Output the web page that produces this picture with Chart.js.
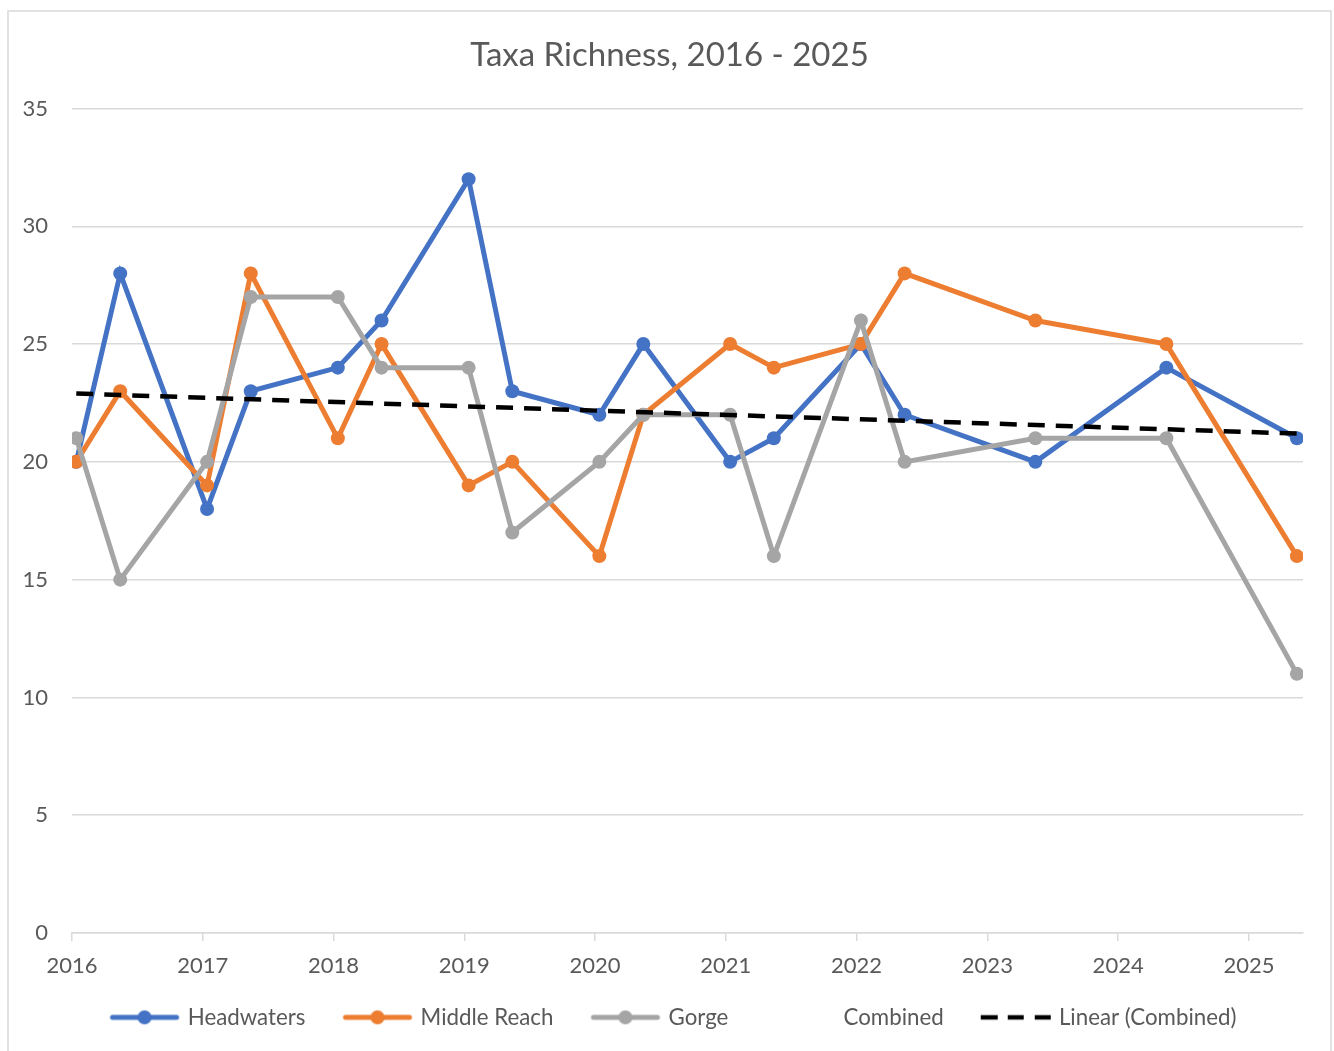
<!DOCTYPE html>
<html>
<head>
<meta charset="utf-8">
<script src="https://cdn.jsdelivr.net/npm/chart.js@4.4.1/dist/chart.umd.min.js"></script>
<style>
html,body{margin:0;padding:0;background:#ffffff;}
canvas{display:block;}
</style>
</head>
<body>
<canvas id="c" width="1334" height="1051"></canvas>
<script>
// ---- data ----
const sampleDates = [
  "2016-01-13","2016-05-15","2017-01-13","2017-05-15","2018-01-13","2018-05-15",
  "2019-01-13","2019-05-15","2020-01-13","2020-05-15","2021-01-13","2021-05-15",
  "2022-01-13","2022-05-15","2023-05-15","2024-05-15","2025-05-15"
];
const headwaters  = [20, 28, 18, 23, 24, 26, 32, 23, 22, 25, 20, 21, 25, 22, 20, 24, 21];
const middleReach = [20, 23, 19, 28, 21, 25, 19, 20, 16, 22, 25, 24, 25, 28, 26, 25, 16];
const gorge       = [21, 15, 20, 27, 27, 24, 24, 17, 20, 22, 22, 16, 26, 20, 21, 21, 11];
const trendEnds   = [22.9, 21.2];   // Linear (Combined) at first and last sample date
const yearTicks   = [2016, 2017, 2018, 2019, 2020, 2021, 2022, 2023, 2024, 2025];
const axisEndDate = "2025-06-01";
const seriesNames = ["Headwaters", "Middle Reach", "Gorge", "Combined", "Linear (Combined)"];
const titleText   = "Taxa Richness, 2016 - 2025";

// ---- helpers ----
function toYear(s) {
  const [y, m, d] = s.split("-").map(Number);
  const a = Date.UTC(y, 0, 1), b = Date.UTC(y + 1, 0, 1);
  return y + (Date.UTC(y, m - 1, d) - a) / (b - a);
}
const xs = sampleDates.map(toYear);
const pts = arr => arr.map((v, i) => ({ x: xs[i], y: v }));

const COLORS = { blue: "#4472C4", orange: "#ED7D31", gray: "#A5A5A5", text: "#595959", grid: "#D9D9D9" };
const FONT = "Lato";
const TICK_SIZE = 22;
const LEGEND_SIZE = 22.3;

function legendIcon(color, kind) {
  const c = document.createElement("canvas");
  c.width = 72; c.height = 18;
  const g = c.getContext("2d");
  const cy = 9;
  if (kind === "marker") {
    g.strokeStyle = color; g.lineWidth = 5; g.lineCap = "round";
    g.beginPath(); g.moveTo(4, cy); g.lineTo(68, cy); g.stroke();
    g.fillStyle = color;
    g.beginPath(); g.arc(36, cy, 7, 0, Math.PI * 2); g.fill();
  } else if (kind === "dash") {
    g.strokeStyle = color; g.lineWidth = 4.5; g.lineCap = "butt";
    [[1, 18], [28, 44], [55, 71]].forEach(([a, b]) => {
      g.beginPath(); g.moveTo(a, cy); g.lineTo(b, cy); g.stroke();
    });
  }
  return c;
}

const icons = [
  legendIcon(COLORS.blue, "marker"),
  legendIcon(COLORS.orange, "marker"),
  legendIcon(COLORS.gray, "marker"),
  legendIcon("#000", "none"),
  legendIcon("#000", "dash")
];

const frameAndShift = {
  id: "frameAndShift",
  beforeDraw(chart) {
    const g = chart.ctx;
    g.save();
    g.fillStyle = "#ffffff";
    g.fillRect(0, 0, chart.width, chart.height);
    g.strokeStyle = COLORS.grid;
    g.lineWidth = 1.5;
    g.strokeRect(8, 11, 1323, 1100);
    g.restore();
  },
  afterLayout(chart) {
    // centre title and legend on the chart frame (Excel style)
    if (chart.titleBlock) { chart.titleBlock.left += 18; chart.titleBlock.right += 18; }
    if (chart.legend) {
      chart.legend.left += 23; chart.legend.right += 23;
      chart.legend.top -= 12.5; chart.legend.bottom -= 12.5;
    }
  }
};

const lineSeries = (label, data, color, order) => ({
  label, data: pts(data),
  borderColor: color, backgroundColor: color,
  pointBackgroundColor: color, pointBorderColor: color,
  borderWidth: 5, pointRadius: 7, pointHoverRadius: 7, pointBorderWidth: 0,
  tension: 0, order
});

new Chart(document.getElementById("c"), {
  type: "line",
  data: {
    datasets: [
      lineSeries(seriesNames[0], headwaters, COLORS.blue, 4),
      lineSeries(seriesNames[1], middleReach, COLORS.orange, 3),
      lineSeries(seriesNames[2], gorge, COLORS.gray, 2),
      { label: seriesNames[3], data: [], showLine: false, pointRadius: 0, borderColor: "rgba(0,0,0,0)", order: 1 },
      {
        label: seriesNames[4],
        data: [{ x: xs[0], y: trendEnds[0] }, { x: xs[xs.length - 1], y: trendEnds[1] }],
        borderColor: "#000000", borderWidth: 4.5, borderDash: [17, 11], borderCapStyle: "butt",
        pointRadius: 0, pointHoverRadius: 0, order: 0
      }
    ]
  },
  options: {
    responsive: false,
    animation: false,
    devicePixelRatio: 1,
    events: [],
    layout: { padding: { left: 0, right: 31, top: 0, bottom: 0 } },
    scales: {
      x: {
        type: "linear",
        min: yearTicks[0],
        max: toYear(axisEndDate),
        afterBuildTicks: s => { s.ticks = yearTicks.map(v => ({ value: v })); },
        afterFit: s => { s.height = 45.7; },
        grid: { drawOnChartArea: false, drawTicks: true, tickLength: 8, color: COLORS.grid, lineWidth: 1.5 },
        border: { display: true, color: COLORS.grid, width: 1.5 },
        ticks: {
          color: COLORS.text, font: { family: FONT, size: TICK_SIZE }, padding: 12,
          maxRotation: 0, autoSkip: false, callback: v => String(v)
        }
      },
      y: {
        min: 0, max: 35,
        afterFit: s => { s.width = 72; },
        ticks: { stepSize: 5, color: COLORS.text, font: { family: FONT, size: TICK_SIZE }, padding: 24 },
        grid: { color: COLORS.grid, lineWidth: 1.5, drawTicks: false },
        border: { display: false }
      }
    },
    plugins: {
      title: {
        display: true, text: titleText, color: COLORS.text,
        font: { family: FONT, size: 33, weight: "normal" },
        padding: { top: 35.2, bottom: 33.7 }
      },
      legend: {
        position: "bottom",
        labels: {
          usePointStyle: true, pointStyleWidth: 64, padding: 40,
          color: COLORS.text, font: { family: FONT, size: LEGEND_SIZE },
          generateLabels: chart => chart.data.datasets.map((ds, i) => ({
            text: ds.label, pointStyle: icons[i], fillStyle: "rgba(0,0,0,0)",
            strokeStyle: "rgba(0,0,0,0)", lineWidth: 0, hidden: false,
            datasetIndex: i, fontColor: COLORS.text
          }))
        }
      },
      tooltip: { enabled: false }
    }
  },
  plugins: [frameAndShift]
});
</script>
</body>
</html>
